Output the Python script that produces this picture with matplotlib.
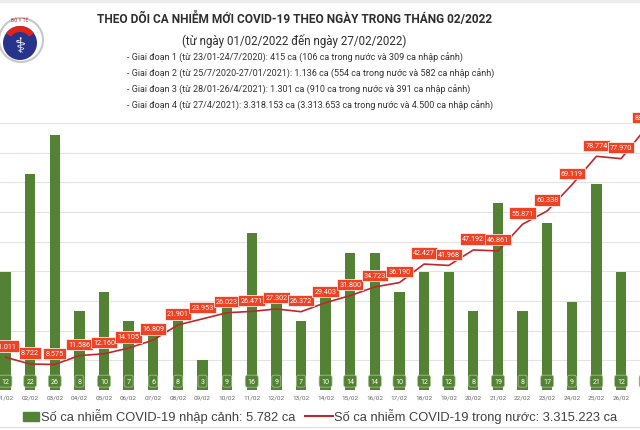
import matplotlib.pyplot as plt
from matplotlib.patches import Rectangle, Circle, Wedge
from matplotlib.lines import Line2D

plt.rcParams['font.family'] = ['Roboto', 'DejaVu Sans']

# dữ liệu tháng 02/2022
days = ['01/02', '02/02', '03/02', '04/02', '05/02', '06/02', '07/02', '08/02', '09/02',
        '10/02', '11/02', '12/02', '13/02', '14/02', '15/02', '16/02', '17/02', '18/02',
        '19/02', '20/02', '21/02', '22/02', '23/02', '24/02', '25/02', '26/02', '27/02']
nhap_canh = [12, 22, 26, 8, 10, 7, 6, 8, 3, 9, 16, 9, 7, 10, 14, 14, 10, 12, 12, 8, 19,
             8, 17, 9, 21, 12, 11]
trong_nuoc = [11011, 8722, 8575, 11586, 12160, 14105, 16809, 21901, 23953, 26023, 26471,
              27302, 26372, 29403, 31800, 34723, 36190, 42427, 41968, 47192, 46861, 55871,
              60338, 69119, 78774, 77970, 88155]

title = 'THEO DÕI CA NHIỄM MỚI COVID-19 THEO NGÀY TRONG THÁNG 02/2022'
subtitle = '(từ ngày 01/02/2022 đến ngày 27/02/2022)'
giai_doan = [
    '- Giai đoạn 1 (từ 23/01-24/7/2020): 415 ca (106 ca trong nước và 309 ca nhập cảnh)',
    '- Giai đoạn 2 (từ 25/7/2020-27/01/2021): 1.136 ca (554 ca trong nước và 582 ca nhập cảnh)',
    '- Giai đoạn 3 (từ 28/01-26/4/2021): 1.301 ca (910 ca trong nước và 391 ca nhập cảnh)',
    '- Giai đoạn 4 (từ 27/4/2021): 3.318.153 ca (3.313.653 ca trong nước và 4.500 ca nhập cảnh)',
]
legend_bar = 'Số ca nhiễm COVID-19 nhập cảnh: 5.782 ca'
legend_line = 'Số ca nhiễm COVID-19 trong nước: 3.315.223 ca'

GREEN = '#548235'
RED_LINE = '#C0272D'
RED_BOX = '#EF4123'
W, H = 640, 431


def so(v):
    return f'{v:,}'.replace(',', '.')


fig = plt.figure(figsize=(6.4, 4.31), dpi=100)

# trục chính: cột nhập cảnh
base, top = 390.9, 124
ax = fig.add_axes([0, 1 - base / H, 1, (base - top) / H])
x = list(range(len(days)))
ax.bar(x, nhap_canh, width=0.42, color=GREEN, zorder=2)
ax.set_ylim(0, 27.2)
ax.set_yticks([27.2 * k / 9 for k in range(10)])
ax.grid(axis='y', color='#e3e3e3', lw=0.8, zorder=0)
ax.set_yticklabels([])
ax.tick_params(axis='y', length=0)
ax.set_xticks(x)
ax.set_xticklabels(days, fontsize=4.6, color='#666666')
ax.tick_params(axis='x', length=0, pad=3.3)
for s in ax.spines.values():
    s.set_visible(False)

for i, v in enumerate(nhap_canh):
    ax.annotate(str(v), (i, 0), xytext=(0, 6.3), textcoords='offset points',
                ha='center', va='center', fontsize=5.1, color='white', zorder=3,
                annotation_clip=False,
                bbox=dict(boxstyle='round,pad=0.35,rounding_size=0.3', fc=GREEN,
                          ec='#a9c99a', lw=0.5))

# trục phụ: ca trong nước
ax2 = ax.twinx()
ax2.set_ylim(0, 90000)
ax2.plot(x, trong_nuoc, color=RED_LINE, lw=1.2, zorder=3)
ax2.set_yticks([])
for s in ax2.spines.values():
    s.set_visible(False)
for i, v in enumerate(trong_nuoc):
    ax2.annotate(so(v), (i, v), xytext=(0, 8), textcoords='offset points',
                 ha='center', va='center', fontsize=5.2, color='white', zorder=4,
                 annotation_clip=False,
                 bbox=dict(boxstyle='square,pad=0.3', fc=RED_BOX, ec='white', lw=0.5))

# đặt xlim sau khi vẽ để twinx không tự giãn trục
ax.set_xlim(-0.2234, 25.77)

# lớp phủ theo pixel cho tiêu đề, logo, chú thích
ov = fig.add_axes([0, 0, 1, 1], zorder=5)
ov.set_xlim(0, W)
ov.set_ylim(H, 0)
ov.axis('off')
ov.patch.set_visible(False)

ov.add_patch(Rectangle((0, 0), W, 3, color='#ececec'))

# logo Bộ Y tế
ov.add_patch(Circle((21, 41), 22, fc='white', ec='#c8c8c8', lw=1.5))
ov.add_patch(Circle((20, 44), 17, fc='#27348b'))
ov.add_patch(Wedge((20, 44), 17, 215, 325, width=6, fc='#e2231a'))
ov.text(20, 47, '⚕', fontsize=15, color='white', ha='center', va='center',
        family=['DejaVu Sans'])
ov.text(20, 20, 'BỘ Y TẾ', fontsize=3.5, color='#c62828', ha='center', va='center')

narrow = ['Liberation Sans Narrow', 'Roboto', 'DejaVu Sans']
ov.text(294.5, 19, title, fontsize=8.6, weight='bold', color='#2e2e2e',
        ha='center', va='center', family=narrow)
ov.text(294.5, 41, subtitle, fontsize=8.3, color='#2e2e2e', ha='center', va='center',
        family=narrow)
for k, line in enumerate(giai_doan):
    ov.text(127, 58 + 16 * k, line, fontsize=6.45, color='#333333', ha='left',
            va='center', family=narrow)

# chú thích
ov.add_patch(Rectangle((23, 413), 16, 9, color=GREEN))
ov.text(41, 416.5, legend_bar, fontsize=9.3, color='#404040', va='center',
        family=['Liberation Sans', 'DejaVu Sans'])
ov.add_line(Line2D([305, 333], [417, 417], color=RED_LINE, lw=1.5))
ov.text(334, 416.5, legend_line, fontsize=9.3, color='#404040', va='center',
        family=['Liberation Sans', 'DejaVu Sans'])
ov.add_line(Line2D([0, W], [428.5, 428.5], color='#dddddd', lw=0.8))

plt.savefig('out.png', dpi=100)
